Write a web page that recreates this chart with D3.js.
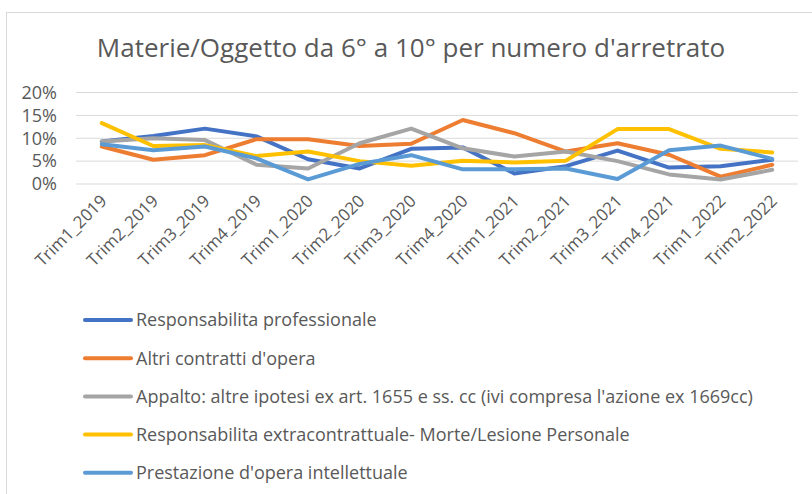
<!DOCTYPE html>
<html>
<head>
<meta charset="utf-8">
<script src="https://cdn.jsdelivr.net/npm/d3@7"></script>
<style>
  body { margin: 0; background: #fff; }
  svg text { font-family: "Open Sans", sans-serif; fill: #595959; }
</style>
</head>
<body>
<div id="chart"></div>
<script>
var categories = ["Trim1_2019","Trim2_2019","Trim3_2019","Trim4_2019","Trim1_2020","Trim2_2020","Trim3_2020","Trim4_2020","Trim1_2021","Trim2_2021","Trim3_2021","Trim4_2021","Trim1_2022","Trim2_2022"];
var seriesNames = [
  "Responsabilita professionale",
  "Altri contratti d'opera",
  "Appalto: altre ipotesi ex art. 1655 e ss. cc (ivi compresa l'azione ex 1669cc)",
  "Responsabilita extracontrattuale- Morte/Lesione Personale",
  "Prestazione d'opera intellettuale"
];
var seriesColors = ["#4472C4", "#ED7D31", "#A5A5A5", "#FFC000", "#5B9BD5"];
var respProf   = [0.093, 0.105, 0.121, 0.104, 0.054, 0.034, 0.077, 0.080, 0.023, 0.039, 0.073, 0.036, 0.039, 0.053];
var altriContr = [0.082, 0.053, 0.063, 0.098, 0.098, 0.083, 0.088, 0.140, 0.111, 0.071, 0.089, 0.064, 0.016, 0.042];
var appalto    = [0.093, 0.100, 0.096, 0.042, 0.034, 0.089, 0.121, 0.078, 0.060, 0.071, 0.050, 0.021, 0.010, 0.031];
var respExtra  = [0.133, 0.083, 0.085, 0.061, 0.071, 0.050, 0.040, 0.051, 0.047, 0.051, 0.120, 0.120, 0.077, 0.069];
var prestInt   = [0.087, 0.074, 0.082, 0.056, 0.010, 0.044, 0.063, 0.032, 0.032, 0.034, 0.011, 0.074, 0.084, 0.055];
var yTicks = [0, 0.05, 0.10, 0.15, 0.20];
var allSeries = [respProf, altriContr, appalto, respExtra, prestInt];

var W = 812, H = 494;
var svg = d3.select("#chart").append("svg")
  .attr("width", W).attr("height", H);

// chart area border (runs off the right/bottom edge)
svg.append("rect")
  .attr("x", 6.5).attr("y", 12.5)
  .attr("width", W + 20).attr("height", H + 20)
  .attr("fill", "#fff")
  .attr("stroke", "#d9d9d9");

svg.append("text")
  .attr("x", 411).attr("y", 57)
  .attr("text-anchor", "middle")
  .style("font-size", "26px")
  .text("Materie/Oggetto da 6° a 10° per numero d'arretrato");

var x = d3.scaleBand().domain(categories).range([76, 798]);
var y = d3.scaleLinear().domain([0, 0.2]).range([184, 92.5]);

// gridlines
svg.append("g").selectAll("line")
  .data(yTicks)
  .enter().append("line")
    .attr("x1", 76).attr("x2", 798)
    .attr("y1", function(d){ return y(d); })
    .attr("y2", function(d){ return y(d); })
    .attr("stroke", "#d9d9d9")
    .attr("stroke-width", 1);

var yAxis = svg.append("g")
  .attr("transform", "translate(60,0)")
  .call(d3.axisLeft(y).tickValues(yTicks).tickFormat(d3.format(".0%")).tickSize(0).tickPadding(3));
yAxis.select(".domain").remove();
yAxis.selectAll("text").style("font-size", "18px").attr("fill", "#595959");

var xAxis = svg.append("g")
  .attr("transform", "translate(0,184)")
  .call(d3.axisBottom(x).tickSize(0).tickPadding(0));
xAxis.select(".domain").remove();
xAxis.selectAll("text")
  .style("font-size", "17px")
  .attr("fill", "#595959")
  .attr("text-anchor", "end")
  .attr("dy", null)
  .attr("transform", "translate(6,18) rotate(-45)");

var line = d3.line()
  .x(function(d, i){ return x(categories[i]) + x.bandwidth() / 2; })
  .y(function(d){ return y(d); });

allSeries.forEach(function(s, k) {
  svg.append("path")
    .datum(s)
    .attr("d", line)
    .attr("fill", "none")
    .attr("stroke", seriesColors[k])
    .attr("stroke-width", 4)
    .attr("stroke-linejoin", "round")
    .attr("stroke-linecap", "round");
});

// legend
var legend = svg.append("g").selectAll("g")
  .data(seriesNames)
  .enter().append("g")
    .attr("transform", function(d, i){ return "translate(85," + (320 + i * 38.2) + ")"; });
legend.append("line")
  .attr("x1", 0).attr("x2", 46)
  .attr("stroke", function(d, i){ return seriesColors[i]; })
  .attr("stroke-width", 4)
  .attr("stroke-linecap", "round");
legend.append("text")
  .attr("x", 51).attr("dy", "0.35em")
  .style("font-size", "18px")
  .text(function(d){ return d; });
</script>
</body>
</html>
